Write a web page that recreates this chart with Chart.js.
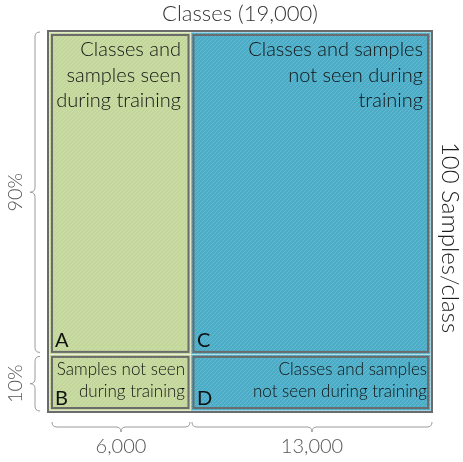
<!DOCTYPE html>
<html>
<head>
<meta charset="utf-8">
<script src="https://cdn.jsdelivr.net/npm/chart.js@4"></script>
<style>
  html, body { margin: 0; padding: 0; background: #fff; }
  #wrap { width: 463px; height: 462px; }
</style>
</head>
<body>
<div id="wrap"><canvas id="mosaic" width="463" height="462"></canvas></div>
<script>
// columns = classes, rows = share of samples per class
const colLabels = ['6,000', '13,000'];
const rowLabels = ['90%', '10%'];
// the source figure is schematic, not to scale: relative drawn extents
const colExtents = [37.3, 62.7];
const rowExtents = [84.7, 15.3];
const cellLetters = [['A', 'C'], ['B', 'D']];
const cellTexts = [
    [['Classes and', 'samples seen', 'during training'], ['Classes and samples', 'not seen during', 'training']],
    [['Samples not seen', 'during training'], ['Classes and samples', 'not seen during training']]
];
const topTitle = 'Classes (19,000)';
const sideTitle = '100 Samples/class';

const FONT = 'Lato, "Open Sans", sans-serif';
const colFills = ['#c4d79b', '#4aacc6'];
const borderColor = '#6b6b6b';
const braceColor = '#9a9a9a';

// diagonal hatch, like the fill in the original
function hatch(color) {
    const c = document.createElement('canvas');
    c.width = 4; c.height = 4;
    const g = c.getContext('2d');
    g.fillStyle = color;
    g.fillRect(0, 0, 4, 4);
    g.strokeStyle = 'rgba(255,255,255,0.16)';
    g.lineWidth = 1;
    g.beginPath();
    g.moveTo(-1, 5); g.lineTo(5, -1);
    g.moveTo(-1, 1); g.lineTo(1, -1);
    g.moveTo(3, 5); g.lineTo(5, 3);
    g.stroke();
    return document.getElementById('mosaic').getContext('2d').createPattern(c, 'repeat');
}

function cumulative(arr) {
    const out = [0];
    arr.forEach(v => out.push(out[out.length - 1] + v));
    return out;
}

// curly brace, tip pointing away from the box
function brace(ctx, vertical, a, b, base, dir) {
    const r = 5;
    const mid = (a + b) / 2;
    ctx.beginPath();
    if (vertical) {
        // base = x of main line, dir = -1 tip points left
        ctx.moveTo(base - dir * r, a);
        ctx.quadraticCurveTo(base, a, base, a + r);
        ctx.lineTo(base, mid - r);
        ctx.quadraticCurveTo(base, mid, base + dir * r, mid);
        ctx.quadraticCurveTo(base, mid, base, mid + r);
        ctx.lineTo(base, b - r);
        ctx.quadraticCurveTo(base, b, base - dir * r, b);
    } else {
        ctx.moveTo(a, base - dir * r);
        ctx.quadraticCurveTo(a, base, a + r, base);
        ctx.lineTo(mid - r, base);
        ctx.quadraticCurveTo(mid, base, mid, base + dir * r);
        ctx.quadraticCurveTo(mid, base, mid + r, base);
        ctx.lineTo(b - r, base);
        ctx.quadraticCurveTo(b, base, b, base - dir * r);
    }
    ctx.stroke();
}

const mosaicPlugin = {
    id: 'mosaic',
    afterDraw(chart) {
        const { ctx, chartArea, scales: { x, y } } = chart;
        const xb = cumulative(colExtents).map(v => x.getPixelForValue(v));
        // rows go from the top (100) down
        const yb = cumulative(rowExtents).map(v => y.getPixelForValue(100 - v));
        const fills = colFills.map(hatch);

        ctx.save();
        // cells
        for (let r = 0; r < rowLabels.length; r++) {
            for (let c = 0; c < colLabels.length; c++) {
                const x0 = xb[c], x1 = xb[c + 1], y0 = yb[r], y1 = yb[r + 1];
                ctx.fillStyle = fills[c];
                ctx.fillRect(x0, y0, x1 - x0, y1 - y0);

                const il = c === 0 ? 4 : 1.5, ir = c === colLabels.length - 1 ? 4 : 1.5;
                const it = r === 0 ? 4 : 1.5, ib = r === rowLabels.length - 1 ? 4 : 1.5;
                ctx.strokeStyle = 'rgba(255,255,255,0.45)';
                ctx.lineWidth = 1;
                ctx.strokeRect(x0 + il - 1.5, y0 + it - 1.5, x1 - x0 - il - ir + 3, y1 - y0 - it - ib + 3);
                ctx.strokeStyle = borderColor;
                ctx.lineWidth = 2;
                ctx.strokeRect(x0 + il + 1, y0 + it + 1, x1 - x0 - il - ir - 2, y1 - y0 - it - ib - 2);

                // description, right aligned in the top corner
                const lines = cellTexts[r][c];
                const size = r === 0 ? 20 : 17;
                ctx.fillStyle = '#111';
                ctx.font = `300 ${size}px ${FONT}`;
                ctx.textAlign = 'right';
                ctx.textBaseline = 'middle';
                const lineH = r === 0 ? 25.5 : 22.5;
                const first = r === 0 ? y0 + 20 : y0 + 15;
                lines.forEach((t, i) => ctx.fillText(t, x1 - (r === 0 ? 10 : 6), first + i * lineH));

                // letter in the bottom-left corner
                ctx.font = `400 20px ${FONT}`;
                ctx.textAlign = 'left';
                ctx.fillStyle = '#111';
                ctx.fillText(cellLetters[r][c], x0 + (c === 0 ? 8 : 6), y1 - 14);
            }
        }
        // outer frame
        ctx.strokeStyle = borderColor;
        ctx.lineWidth = 2;
        ctx.strokeRect(chartArea.left + 1, chartArea.top + 1, chartArea.width - 2, chartArea.height - 2);

        // braces and their labels
        ctx.strokeStyle = braceColor;
        ctx.lineWidth = 1;
        ctx.fillStyle = '#555';
        ctx.font = `300 20px ${FONT}`;
        ctx.textAlign = 'center';
        ctx.textBaseline = 'middle';
        for (let r = 0; r < rowLabels.length; r++) {
            const a = yb[r] + 2, b = yb[r + 1] - 2;
            brace(ctx, true, a, b, chartArea.left - 12, -1);
            ctx.save();
            ctx.translate(chartArea.left - 31, (a + b) / 2);
            ctx.rotate(-Math.PI / 2);
            ctx.fillText(rowLabels[r], 0, 0);
            ctx.restore();
        }
        for (let c = 0; c < colLabels.length; c++) {
            const a = xb[c] + (c === 0 ? 5 : 1), b = xb[c + 1] - 1;
            brace(ctx, false, a, b, chartArea.bottom + 14, 1);
            ctx.fillText(colLabels[c], (a + b) / 2, chartArea.bottom + 34);
        }

        // titles
        ctx.fillStyle = '#333';
        ctx.font = `300 22px ${FONT}`;
        ctx.fillText(topTitle, (chartArea.left + chartArea.right) / 2, chartArea.top - 16);
        ctx.save();
        ctx.translate(chartArea.right + 17, (chartArea.top + chartArea.bottom) / 2 + 16);
        ctx.rotate(Math.PI / 2);
        ctx.font = `300 24px ${FONT}`;
        ctx.fillStyle = '#1e1e1e';
        ctx.fillText(sideTitle, 0, 0);
        ctx.restore();
        ctx.restore();
    }
};

new Chart(document.getElementById('mosaic'), {
    type: 'scatter',
    data: { datasets: [{ data: [] }] },
    options: {
        responsive: false,
        animation: false,
        layout: { padding: { left: 47, right: 30, top: 30, bottom: 49 } },
        plugins: { legend: { display: false }, tooltip: { enabled: false } },
        scales: {
            x: { type: 'linear', min: 0, max: 100, display: false },
            y: { type: 'linear', min: 0, max: 100, display: false }
        }
    },
    plugins: [mosaicPlugin]
});
</script>
</body>
</html>
